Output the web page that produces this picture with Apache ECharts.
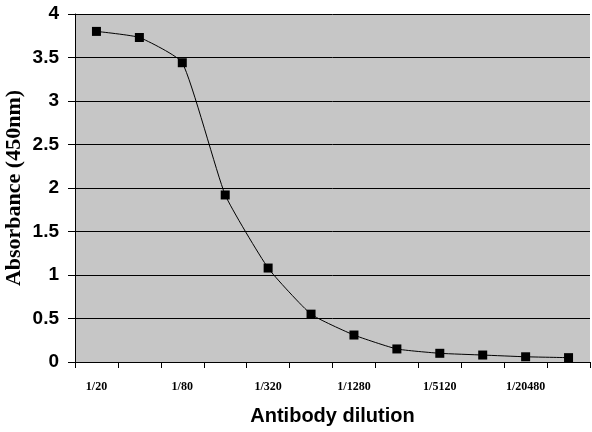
<!DOCTYPE html>
<html>
<head>
<meta charset="utf-8">
<script src="https://cdn.jsdelivr.net/npm/echarts@6/dist/echarts.min.js"></script>
<style>
  html, body { margin: 0; padding: 0; background: #fff; }
  #chart { width: 592px; height: 432px; }
</style>
</head>
<body>
<div id="chart"></div>
<script>
const dilutions = ['1/20', '1/40', '1/80', '1/160', '1/320', '1/640', '1/1280', '1/2560', '1/5120', '1/10240', '1/20480', '1/40960'];
const absorbance = [3.80, 3.73, 3.44, 1.92, 1.08, 0.55, 0.31, 0.15, 0.10, 0.08, 0.06, 0.05];
const yTicks = [0, 0.5, 1, 1.5, 2, 2.5, 3, 3.5, 4];

const chart = echarts.init(document.getElementById('chart'));

let option = {
    animation: false,
    backgroundColor: '#ffffff',
    grid: {
        left: 75,
        right: 2,
        top: 14,
        bottom: 70,
        outerBoundsMode: 'none',
        containLabel: false,
        show: true,
        backgroundColor: '#c6c6c6',
        borderWidth: 0
    },
    xAxis: {
        type: 'category',
        data: dilutions,
        boundaryGap: true,
        name: 'Antibody dilution',
        nameLocation: 'middle',
        nameGap: 44,
        nameMoveOverlap: false,
        nameTextStyle: {
            fontFamily: 'Liberation Sans',
            fontWeight: 'bold',
            fontSize: 20,
            color: '#000'
        },
        axisLine: { lineStyle: { color: '#000', width: 1 } },
        axisTick: {
            show: true,
            length: 6,
            interval: 0,
            lineStyle: { color: '#000' }
        },
        axisLabel: {
            interval: 1,
            margin: 19,
            fontFamily: 'Liberation Serif',
            fontWeight: 'bold',
            fontSize: 12,
            color: '#000'
        },
        splitLine: { show: false }
    },
    yAxis: {
        type: 'value',
        min: yTicks[0],
        max: yTicks[yTicks.length - 1],
        interval: 0.5,
        name: 'Absorbance (450nm)',
        nameLocation: 'middle',
        nameGap: 50,
        nameRotate: 90,
        nameMoveOverlap: false,
        nameTextStyle: {
            fontFamily: 'Liberation Serif',
            fontWeight: 'bold',
            fontSize: 22,
            color: '#000'
        },
        axisLine: { show: true, lineStyle: { color: '#000', width: 1 } },
        axisTick: { show: true, length: 7, lineStyle: { color: '#000' } },
        axisLabel: {
            margin: 16,
            fontFamily: 'Liberation Sans',
            fontWeight: 'bold',
            fontSize: 19,
            color: '#000'
        },
        splitLine: { show: true, lineStyle: { color: '#000', width: 1 } }
    },
    series: [{
        type: 'line',
        data: absorbance,
        smooth: 0.15,
        symbol: 'rect',
        symbolSize: 9,
        itemStyle: { color: '#000' },
        lineStyle: { color: '#000', width: 1 }
    }]
};

chart.setOption(option);
</script>
</body>
</html>
